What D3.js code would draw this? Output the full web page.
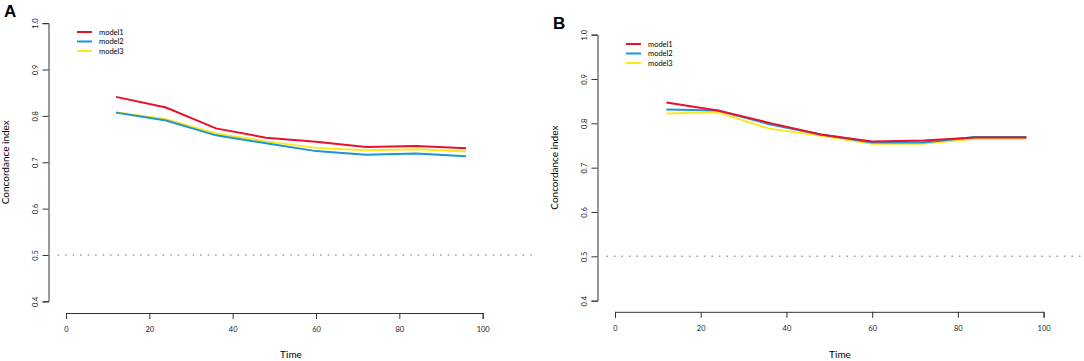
<!DOCTYPE html>
<html>
<head>
    <meta charset="utf-8">
    <title>Concordance index</title>
    <script src="https://d3js.org/d3.v7.min.js"></script>
    <style>
        body {
            margin: 0;
            padding: 0;
            background-color: #ffffff;
            font-family: Lato, sans-serif;
        }
        .axis path, .axis line {
            stroke: #333;
            stroke-width: 1;
        }
        .axis text {
            font-family: Lato, sans-serif;
            font-size: 7.5px;
            fill: #222;
        }
        .series {
            fill: none;
            stroke-width: 2;
        }
    </style>
</head>
<body>
    <div id="chart"></div>

    <script>
        // data
        var times = [12, 24, 36, 48, 60, 72, 84, 96];
        var modelNames = ["model1", "model2", "model3"];
        var modelColors = ["#e8112d", "#1b95d4", "#fde61b"];

        var panelA_model1 = [0.841, 0.818, 0.773, 0.753, 0.744, 0.733, 0.735, 0.730];
        var panelA_model2 = [0.807, 0.790, 0.758, 0.741, 0.724, 0.716, 0.719, 0.713];
        var panelA_model3 = [0.808, 0.793, 0.762, 0.745, 0.731, 0.726, 0.728, 0.723];

        var panelB_model1 = [0.847, 0.829, 0.801, 0.775, 0.759, 0.761, 0.768, 0.768];
        var panelB_model2 = [0.831, 0.829, 0.798, 0.775, 0.757, 0.757, 0.769, 0.769];
        var panelB_model3 = [0.822, 0.825, 0.788, 0.772, 0.754, 0.754, 0.765, 0.765];

        var xTicks = [0, 20, 40, 60, 80, 100];
        var yTicks = [0.4, 0.5, 0.6, 0.7, 0.8, 0.9, 1.0];
        var refLine = 0.5;

        var width = 1084, height = 361;

        var svg = d3.select("#chart")
            .append("svg")
            .attr("width", width)
            .attr("height", height);

        var panels = [
            { letter: "A", series: [panelA_model1, panelA_model2, panelA_model3], xMax: 108,
              left: 48, right: 534, top: 12, bottom: 312.5 },
            { letter: "B", series: [panelB_model1, panelB_model2, panelB_model3], xMax: 105,
              left: 597, right: 1083, top: 24, bottom: 311.3 }
        ];

        panels.forEach(function(p) {
            // R style: axis range padded by 4% each side
            var pad = p.xMax * 0.04;
            var xScale = d3.scaleLinear().domain([-pad, p.xMax + pad]).range([p.left, p.right]);
            var yScale = d3.scaleLinear().domain([0.376, 1.024]).range([p.bottom, p.top]);

            var g = svg.append("g");

            // panel letter
            g.append("text")
                .attr("x", p.left - 44)
                .attr("y", p.top + 5)
                .style("font-family", "Liberation Sans, Arial, sans-serif")
                .style("font-weight", "bold")
                .style("font-size", "17px")
                .text(p.letter);

            // x axis (only spans 0..100 like R's axis)
            var xAxisScale = d3.scaleLinear().domain([0, 100]).range([xScale(0), xScale(100)]);
            var xAxis = g.append("g")
                .attr("class", "axis")
                .attr("transform", "translate(0," + (p.bottom + 0.5) + ")")
                .call(d3.axisBottom(xAxisScale).tickValues(xTicks).tickSize(6).tickSizeOuter(6).tickFormat(d3.format("d")));
            xAxis.selectAll("text").attr("y", 14);

            // y axis
            var yAxisScale = d3.scaleLinear().domain([0.4, 1.0]).range([yScale(0.4), yScale(1.0)]);
            var yAxis = g.append("g")
                .attr("class", "axis")
                .attr("transform", "translate(" + (p.left + 0.5) + ",0)")
                .call(d3.axisLeft(yAxisScale).tickValues(yTicks).tickSize(6).tickSizeOuter(6).tickFormat(d3.format(".1f")));
            yAxis.selectAll(".tick text")
                .attr("x", 0)
                .attr("dy", null)
                .attr("y", 0)
                .attr("text-anchor", "middle")
                .attr("transform", "translate(-11,0) rotate(-90)");

            // reference line at 0.5
            g.append("line")
                .attr("x1", xScale(-2))
                .attr("x2", p.right)
                .attr("y1", yScale(refLine))
                .attr("y2", yScale(refLine))
                .attr("stroke", "#999")
                .attr("stroke-width", 1.5)
                .attr("stroke-dasharray", "1.5,6");

            // axis titles
            g.append("text")
                .attr("x", (p.left + p.right) / 2)
                .attr("y", 358)
                .attr("text-anchor", "middle")
                .style("font-size", "10px")
                .text("Time");

            g.append("text")
                .attr("transform", "translate(" + (p.left - 39) + "," + ((p.top + p.bottom) / 2) + ") rotate(-90)")
                .attr("text-anchor", "middle")
                .style("font-size", "10px")
                .text("Concordance index");

            // lines: yellow, blue, red (red ends up on top)
            var line = d3.line()
                .x(function(d, i) { return xScale(times[i]); })
                .y(function(d) { return yScale(d); });

            [2, 1, 0].forEach(function(k) {
                g.append("path")
                    .datum(p.series[k])
                    .attr("class", "series")
                    .attr("stroke", modelColors[k])
                    .attr("d", line);
            });

            // legend
            var legend = g.append("g")
                .attr("transform", "translate(" + (p.left + 29) + "," + (p.top + 20) + ")");
            modelNames.forEach(function(name, k) {
                legend.append("line")
                    .attr("x1", 0).attr("x2", 15)
                    .attr("y1", k * 9.5).attr("y2", k * 9.5)
                    .attr("stroke", modelColors[k])
                    .attr("stroke-width", 2);
                legend.append("text")
                    .attr("x", 22)
                    .attr("y", k * 9.5)
                    .attr("dy", "0.35em")
                    .style("font-size", "7.5px")
                    .text(name);
            });
        });
    </script>
</body>
</html>
